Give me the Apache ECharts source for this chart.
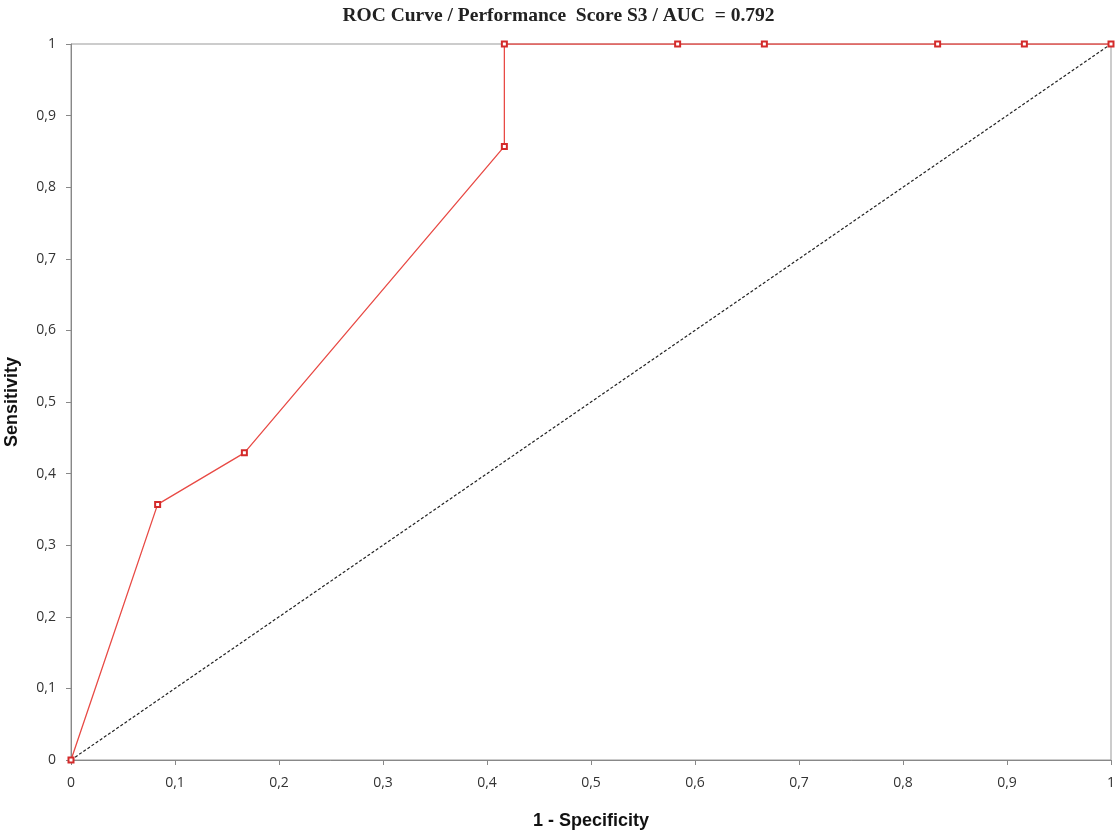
<!DOCTYPE html>
<html>
<head>
<meta charset="utf-8">
<script src="https://cdn.jsdelivr.net/npm/echarts@6/dist/echarts.min.js"></script>
<style>
  html, body { margin: 0; padding: 0; background: #fff; }
  #main { width: 1117px; height: 833px; }
</style>
</head>
<body>
<div id="main"></div>
<script>
// ROC points (1 - specificity, sensitivity)
var fpr = [0, 0.0833, 0.1667, 0.4167, 0.4167, 0.5833, 0.6667, 0.8333, 0.9167, 1];
var tpr = [0, 0.357, 0.429, 0.857, 1, 1, 1, 1, 1, 1];
var refX = [0, 1];
var refY = [0, 1];

function pairs(xs, ys){
	var out = [];
	for (var i = 0; i < xs.length; i++) out.push([xs[i], ys[i]]);
	return out;
}

function comma(v){
	return String(+v.toFixed(2)).replace('.', ',');
}

var option = {
	backgroundColor: '#fff',
	animation: false,
	title: {
		text: 'ROC Curve / Performance  Score S3 / AUC  = 0.792',
		left: 'center',
		top: 1,
		textStyle: { fontFamily: 'Liberation Serif', fontWeight: 'bold', fontSize: 19.5, color: '#222' }
	},
	grid: { left: 71, right: 6, top: 44, bottom: 73, outerBoundsMode: 'none', show: true, borderColor: '#999', borderWidth: 1 },
	xAxis: {
		type: 'value', min: 0, max: 1, interval: 0.1,
		name: '1 - Specificity', nameLocation: 'middle', nameGap: 52,
		nameTextStyle: { fontFamily: 'Liberation Sans', fontWeight: 'bold', fontSize: 18, color: '#111' },
		axisLine: { show: true, lineStyle: { color: '#888' } },
		axisTick: { show: true, length: 5, lineStyle: { color: '#888' } },
		splitLine: { show: false },
		axisLabel: { formatter: comma, fontFamily: 'Open Sans', fontSize: 14, color: '#333', margin: 16 }
	},
	yAxis: {
		type: 'value', min: 0, max: 1, interval: 0.1,
		name: 'Sensitivity', nameLocation: 'middle', nameGap: 50,
		nameTextStyle: { fontFamily: 'Liberation Sans', fontWeight: 'bold', fontSize: 18, color: '#111' },
		axisLine: { show: true, lineStyle: { color: '#888' } },
		axisTick: { show: true, length: 5, lineStyle: { color: '#888' } },
		splitLine: { show: false },
		axisLabel: { formatter: comma, fontFamily: 'Open Sans', fontSize: 14, color: '#333', margin: 15 }
	},
	series: [
		{
			name: 'reference',
			type: 'line',
			data: pairs(refX, refY),
			showSymbol: false,
			lineStyle: { color: '#222', width: 1.2, type: [3, 2] },
			z: 2
		},
		{
			name: 'ROC',
			type: 'line',
			data: pairs(fpr, tpr),
			symbol: 'emptyRect',
			symbolSize: 5,
			itemStyle: { color: '#d42a2a', borderWidth: 1 },
			lineStyle: { color: '#e84a45', width: 1.3 },
			z: 3
		}
	]
};

var myChart = echarts.init(document.getElementById('main'));
myChart.setOption(option);
</script>
</body>
</html>
